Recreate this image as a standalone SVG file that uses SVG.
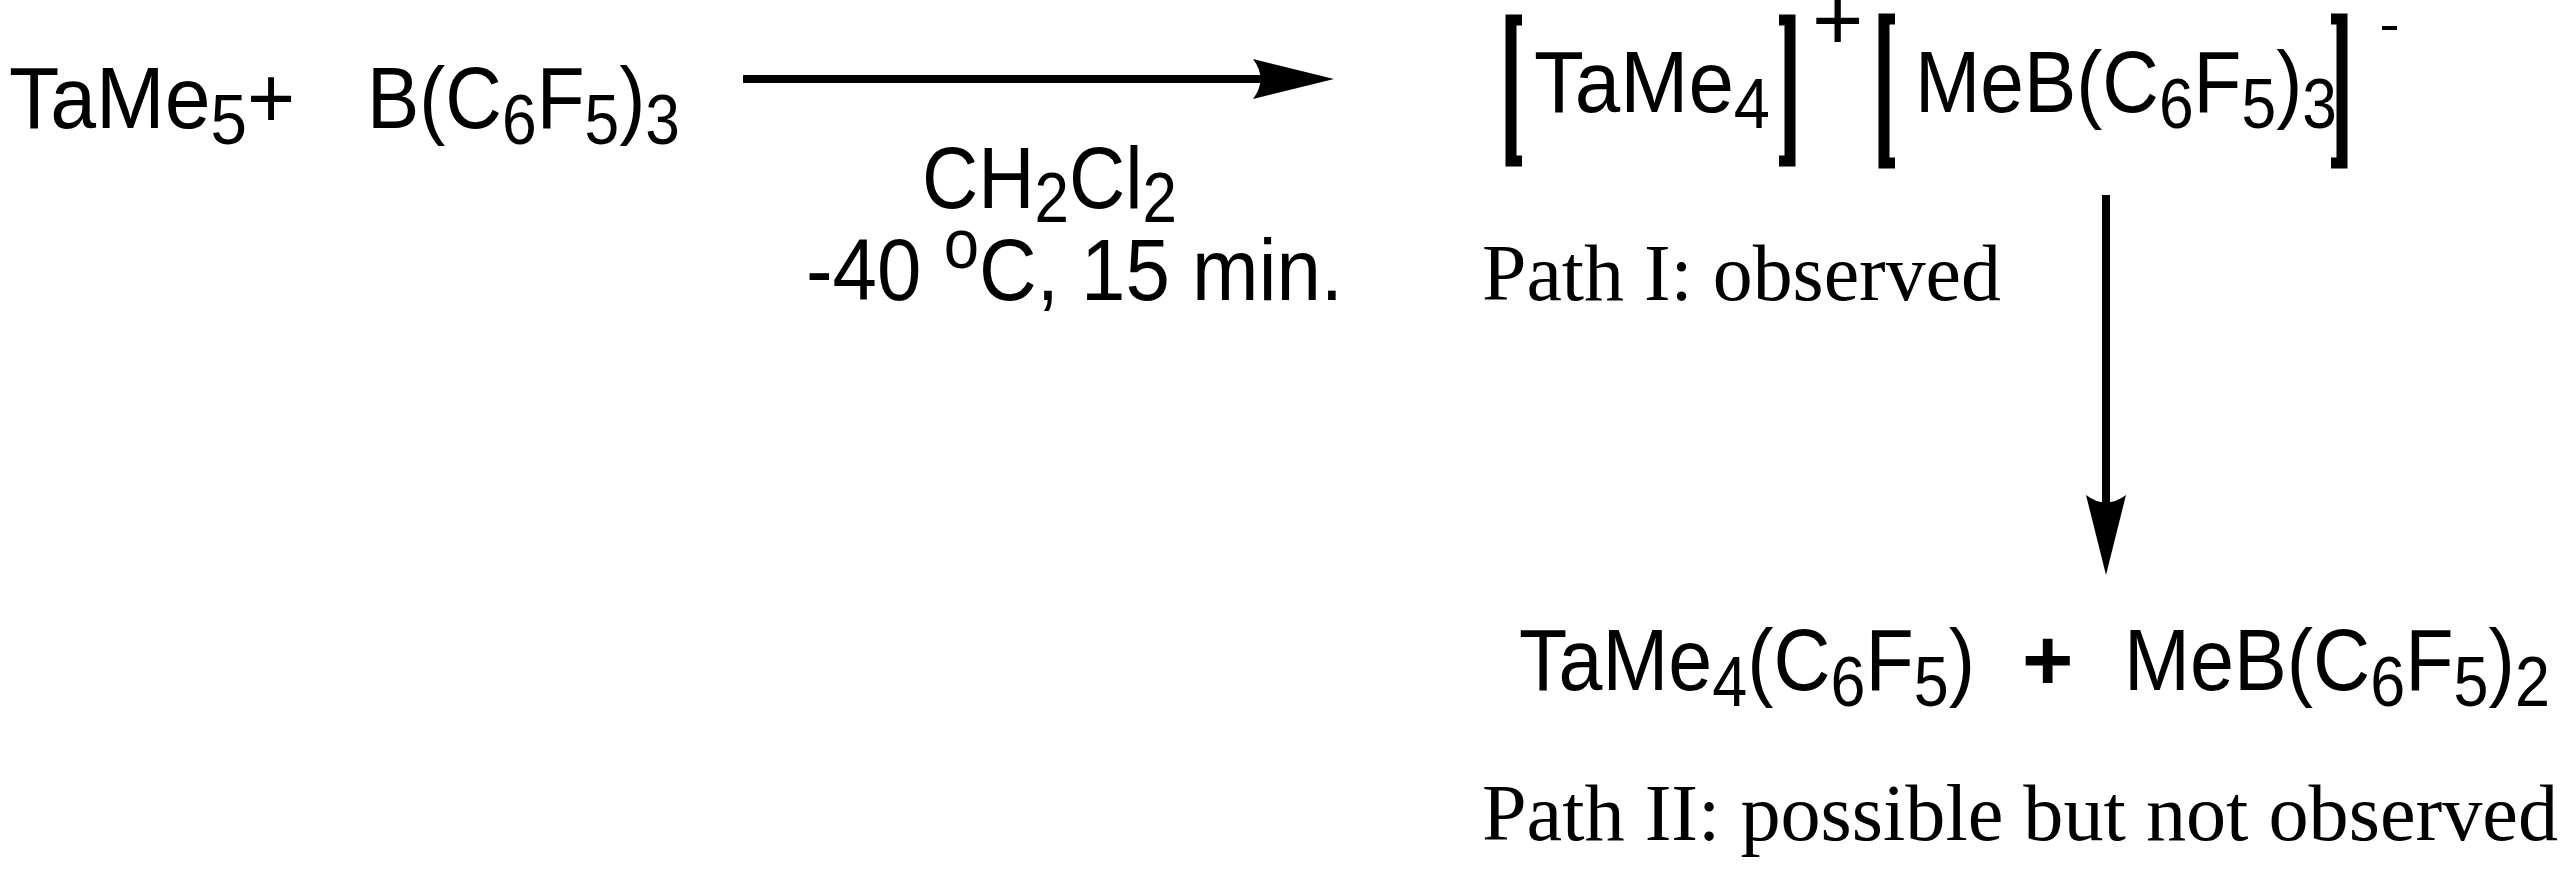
<svg xmlns="http://www.w3.org/2000/svg" width="2571" height="884" viewBox="0 0 2571 884">
<style>
.s{font-family:"Liberation Sans",Arial,sans-serif;font-size:88px;fill:#000}
.t{font-family:"Liberation Serif","Times New Roman",serif;font-size:80px;fill:#000}
.b{fill:none;stroke:#000;stroke-width:11}
</style>
<rect width="2571" height="884" fill="#fff"/>
<g id="reactants">
<text class="s" x="9" y="128" textLength="286" lengthAdjust="spacingAndGlyphs">TaMe<tspan font-size="70" dy="16">5</tspan><tspan dy="-16">+</tspan></text>
<text class="s" x="367" y="128" textLength="313" lengthAdjust="spacingAndGlyphs">B(C<tspan font-size="70" dy="16">6</tspan><tspan dy="-16">F</tspan><tspan font-size="70" dy="16">5</tspan><tspan dy="-16">)</tspan><tspan font-size="70" dy="16">3</tspan></text>
</g>
<g id="conditions">
<text class="s" x="922" y="208" textLength="255" lengthAdjust="spacingAndGlyphs">CH<tspan font-size="70" dy="14">2</tspan><tspan dy="-14">Cl</tspan><tspan font-size="70" dy="14">2</tspan></text>
<text class="s" x="806" y="300" textLength="537" lengthAdjust="spacingAndGlyphs">-40 <tspan font-size="70" dy="-32">o</tspan><tspan dy="32">C, 15 min.</tspan></text>
</g>
<g id="ionpair">
<path class="b" d="M1522,20 H1511 V161 H1522"/>
<text class="s" x="1534" y="112" textLength="236" lengthAdjust="spacingAndGlyphs">TaMe<tspan font-size="70" dy="16">4</tspan></text>
<path class="b" d="M1779,20 H1790 V161 H1779"/>
<text class="s" x="1812" y="50" font-size="50">+</text>
<path class="b" d="M1895,19 H1884 V163 H1895"/>
<text class="s" x="1915" y="112" textLength="422" lengthAdjust="spacingAndGlyphs">MeB(C<tspan font-size="70" dy="16">6</tspan><tspan dy="-16">F</tspan><tspan font-size="70" dy="16">5</tspan><tspan dy="-16">)</tspan><tspan font-size="70" dy="16">3</tspan></text>
<path class="b" d="M2331,19 H2342 V163 H2331"/>
<rect x="2382" y="26" width="15" height="4" fill="#000"/>
<text class="t" x="1482" y="300" textLength="519" lengthAdjust="spacingAndGlyphs">Path I: observed</text>
</g>
<g id="products">
<text class="s" x="1519" y="690" textLength="456" lengthAdjust="spacingAndGlyphs">TaMe<tspan font-size="70" dy="16">4</tspan><tspan dy="-16">(C</tspan><tspan font-size="70" dy="16">6</tspan><tspan dy="-16">F</tspan><tspan font-size="70" dy="16">5</tspan><tspan dy="-16">)</tspan></text>
<text class="s" x="2022" y="690" font-weight="bold">+</text>
<text class="s" x="2124" y="690" textLength="426" lengthAdjust="spacingAndGlyphs">MeB(C<tspan font-size="70" dy="16">6</tspan><tspan dy="-16">F</tspan><tspan font-size="70" dy="16">5</tspan><tspan dy="-16">)</tspan><tspan font-size="70" dy="16">2</tspan></text>
<text class="t" x="1482" y="840" textLength="1076" lengthAdjust="spacingAndGlyphs">Path II: possible but not observed</text>
</g>
<g id="connectors">
<line x1="743" y1="79" x2="1270" y2="79" stroke="#000" stroke-width="8"/>
<path d="M1334,79 L1253,59 Q1268,79 1253,99 Z" fill="#000"/>
<line x1="2106" y1="195" x2="2106" y2="510" stroke="#000" stroke-width="8"/>
<path d="M2106,575 L2086,495 Q2106,510 2126,495 Z" fill="#000"/>
</g>
</svg>
